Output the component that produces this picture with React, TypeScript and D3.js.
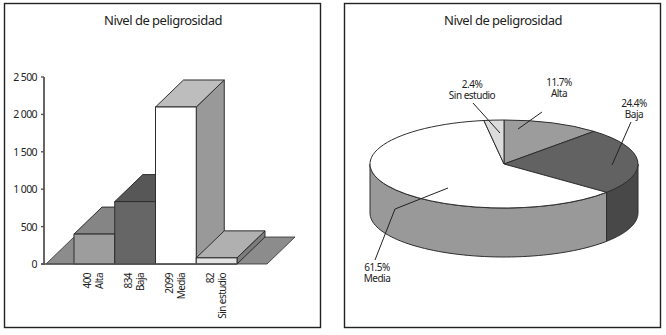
import React from "react";
import * as d3 from "d3";

const title = "Nivel de peligrosidad";
const categories = ["Alta", "Baja", "Media", "Sin estudio"];
const counts = [400, 834, 2099, 82];
const percents = ["11.7%", "24.4%", "61.5%", "2.4%"];
const tickValues = [0, 500, 1000, 1500, 2000, 2500];
const tickLabels = ["0", "500", "1 000", "1 500", "2 000", "2 500"];
const frontFill = ["#9d9d9d", "#666666", "#ffffff", "#e2e2e2"];
const topFill = ["#858585", "#575757", "#bdbdbd", "#b0b0b0"];
const sideFill = ["#8a8a8a", "#5a5a5a", "#999999", "#7c7c7c"];
const sliceFill = ["#9c9c9c", "#626262", "#ffffff", "#dcdcdc"];
const wallFill = ["#8f8f8f", "#484848", "#999999", "#999999"];

const FONT = "'Noto Sans', sans-serif";
const INK = "#2e2e2e";

// bar chart layout
const y = d3.scaleLinear().domain([0, 2500]).range([264, 77]);
const x = d3.scaleBand<string>().domain(categories).range([74, 237]).padding(0);
const DX = 28;
const DY = 27;
const poly = (p: [number, number][]) => d3.line()(p) + "Z";

// pie layout
const CX = 504;
const CY = 164;
const RX = 134;
const RY = 44;
const DEPTH = 49;
const pieGen = d3.pie<number>().sort(null).value((d) => d);
const arcs = pieGen(counts);
const arcGen = d3.arc<d3.PieArcDatum<number>>().innerRadius(0).outerRadius(RX);

const wall = (a0: number, a1: number) => {
  const n = 60;
  const angles = d3.range(n + 1).map((i) => a0 + ((a1 - a0) * i) / n);
  return d3
    .area<number>()
    .x((a) => CX + RX * Math.sin(a))
    .y0((a) => CY - RY * Math.cos(a))
    .y1((a) => CY - RY * Math.cos(a) + DEPTH)(angles) + "Z";
};

const pieLabelAt: [number, number][] = [
  [559, 86],
  [634, 107],
  [377, 271],
  [472, 88],
];
const leaders: [number, number][][] = [
  [[542, 112], [518, 129]],
  [[631, 122], [612, 165]],
  [[375, 260], [395, 209], [448, 188]],
  [[473, 103], [500, 133]],
];

const Panel = ({ x0, x1 }: { x0: number; x1: number }) => (
  <g>
    <rect x={x0} y={3.5} width={x1 - x0} height={324} fill="#fff" stroke="#222" strokeWidth={1.4} />
    <text x={(x0 + x1) / 2 + 0.5} y={25} textAnchor="middle" fontSize={13} fontFamily={FONT} fill="#222" letterSpacing={-0.5}>
      {title}
    </text>
  </g>
);

export default function App() {
  const bw = x.bandwidth();
  const bottom = y(0);
  const floorBack = bottom - DY;
  return (
    <svg width={666} height={335} style={{ position: "absolute", left: 0, top: 0, background: "#fff" }}>
      <Panel x0={4.5} x1={320.5} />
      <Panel x0={344.5} x1={660.5} />

      {/* floor */}
      <path
        d={poly([[46, bottom], [46 + DX, floorBack], [267 + DX, floorBack], [267, bottom]])}
        fill="#8c8c8c"
        stroke={INK}
        strokeWidth={0.8}
      />

      {/* bars */}
      {categories.map((c, i) => {
        const x0 = x(c)!;
        const x1 = x0 + bw;
        const t = y(counts[i]);
        return (
          <g key={c} stroke={INK} strokeWidth={1}>
            <path d={poly([[x1, t], [x1 + DX, t - DY], [x1 + DX, bottom - DY], [x1, bottom]])} fill={sideFill[i]} />
            <path d={poly([[x0, t], [x0 + DX, t - DY], [x1 + DX, t - DY], [x1, t]])} fill={topFill[i]} />
            <rect x={x0} y={t} width={bw} height={bottom - t} fill={frontFill[i]} />
          </g>
        );
      })}

      {/* axis */}
      <line x1={44} x2={44} y1={y(2500)} y2={bottom + 1} stroke="#666" strokeWidth={2} />
      <line x1={41} x2={x(categories[3])! + bw} y1={bottom} y2={bottom} stroke="#555" strokeWidth={1.4} />
      {tickValues.map((v, i) => (
        <g key={v}>
          <line x1={41} x2={44} y1={y(v)} y2={y(v)} stroke="#555" strokeWidth={1.4} />
          <text x={37} y={y(v) + 4} textAnchor="end" fontSize={10.5} fontFamily={FONT} fill="#222" letterSpacing={-0.6}>
            {tickLabels[i]}
          </text>
        </g>
      ))}

      {/* rotated category labels */}
      {categories.map((c, i) => {
        const xc = x(c)! + bw / 2;
        return (
          <g key={c} fontSize={10} fontFamily={FONT} fill="#222" textAnchor="end" letterSpacing={-0.55}>
            <text transform={`translate(${xc - 3},273) rotate(-90)`}>{counts[i]}</text>
            <text transform={`translate(${xc + 9},273) rotate(-90)`}>{c}</text>
          </g>
        );
      })}

      {/* pie walls */}
      <path d={wall((270 * Math.PI) / 180, arcs[2].startAngle)} fill={wallFill[2]} stroke={INK} strokeWidth={1} />
      <path d={wall(arcs[1].endAngle, Math.PI / 2)} fill={wallFill[1]} stroke={INK} strokeWidth={1} />

      {/* pie top */}
      <g transform={`translate(${CX},${CY}) scale(1,${RY / RX})`}>
        {arcs.map((a, i) => (
          <path
            key={i}
            d={arcGen(a)!}
            fill={sliceFill[i]}
            stroke={INK}
            strokeWidth={1}
            style={{ vectorEffect: "non-scaling-stroke" }}
          />
        ))}
      </g>

      {/* leaders & labels */}
      {leaders.map((l, i) => (
        <path key={i} d={d3.line()(l)!} fill="none" stroke="#222" strokeWidth={1} />
      ))}
      {categories.map((c, i) => (
        <text key={c} fontSize={10} fontFamily={FONT} fill="#222" textAnchor="middle" letterSpacing={-0.5} y={pieLabelAt[i][1]}>
          <tspan x={pieLabelAt[i][0]}>{percents[i]}</tspan>
          <tspan x={pieLabelAt[i][0]} dy={11}>{c}</tspan>
        </text>
      ))}
    </svg>
  );
}
